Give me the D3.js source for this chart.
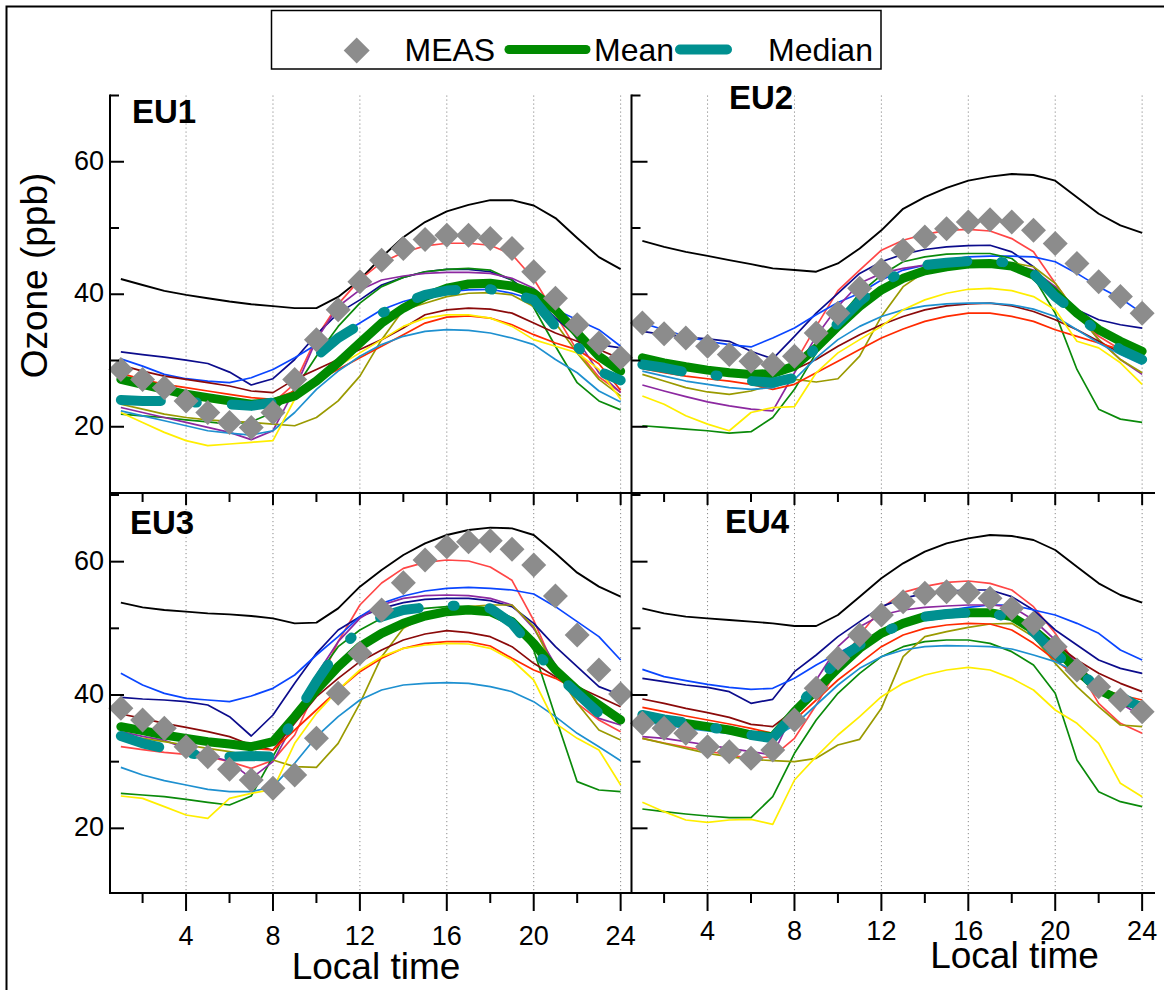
<!DOCTYPE html>
<html>
<head>
<meta charset="utf-8">
<script src="https://cdn.jsdelivr.net/npm/d3@7"></script>
<style>
  html, body { margin: 0; padding: 0; background: #fff; }
  svg { display: block; font-family: "Liberation Sans", Arial, sans-serif; }
</style>
</head>
<body>
<svg id="chart" width="1164" height="990"></svg>
<script>
// ---------- axis definitions ----------
const hours = d3.range(1, 25);
const hourMajorTicks = [4, 8, 12, 16, 20, 24];
const hourMinorTicks = [2, 6, 10, 14, 18, 22];
const ozoneMajorTicks = [20, 40, 60];
const ozoneMinorTicks = [30, 50, 70];
const panelNames = ["EU1", "EU2", "EU3", "EU4"];
const legendLabels = ["MEAS", "Mean", "Median"];
const xTitle = "Local time";
const yTitle = "Ozone (ppb)";

// ---------- EU1 hourly ozone (ppb), hours 1..24 ----------
const EU1_MEAS   = [28.65,27.15,25.9,23.9,22.15,20.65,19.9,22.15,27.15,33.15,37.65,41.9,45.15,46.9,48.25,48.9,48.9,48.4,46.9,43.4,39.4,35.4,32.65,30.4];
const EU1_MEAN   = [27.15,26.4,25.65,24.9,24.4,23.9,23.4,23.65,24.65,26.9,29.65,32.65,35.65,37.9,39.65,40.9,41.55,41.65,41.25,40.15,37.65,34.15,30.65,28.4];
const EU1_MEDIAN = [24.05,23.9,23.9,23.75,23.55,23.4,23.15,23.65,27.0,30.65,33.4,35.4,37.15,38.65,39.9,40.55,40.75,40.75,40.15,39.15,35.15,32.15,28.4,27.0];
const EU1_M1  = [42.3,41.4,40.5,39.9,39.4,38.9,38.5,38.2,37.9,37.9,39.6,42.2,45.6,48.6,50.9,52.5,53.5,54.2,54.2,53.4,51.5,48.5,45.6,43.8];
const EU1_M2  = [27.5,26.5,25.6,24.9,24.4,24.1,23.8,23.6,26.5,33.5,38.5,42.2,44.8,46.3,47.3,47.7,47.7,47.4,46.0,42.3,37.0,31.5,27.5,25.2];
const EU1_M3  = [31.3,30.9,30.5,30.05,29.55,28.25,26.3,27.25,30.15,33.9,37.15,39.15,41.4,42.55,43.4,43.75,43.75,43.4,42.15,39.65,36.4,33.65,32.4,31.9];
const EU1_M4  = [30.25,29.15,27.9,27.25,26.9,26.65,27.4,28.65,30.4,32.4,33.65,35.65,37.65,38.9,39.75,40.4,40.65,40.75,40.15,39.15,37.65,36.15,34.65,32.15];
const EU1_M5  = [21.9,21.65,21.4,21.05,20.75,20.4,20.75,22.15,25.65,30.65,35.15,38.65,41.15,42.55,43.4,43.75,43.9,43.65,42.15,38.0,32.15,26.65,23.9,22.55];
const EU1_M6  = [22.9,22.15,21.4,20.65,19.9,19.15,18.05,19.4,25.65,33.15,38.15,40.65,42.15,42.75,43.15,43.3,43.3,43.15,42.4,40.9,38.15,33.15,28.15,25.15];
const EU1_M7  = [23.4,22.65,21.9,21.4,21.05,20.8,20.65,20.4,20.15,21.4,23.9,27.65,33.15,37.65,38.65,39.65,40.15,40.25,39.9,38.15,35.65,31.15,27.15,24.65];
const EU1_M8  = [29.3,28.4,27.65,27.15,26.65,26.15,25.4,25.15,27.15,28.65,30.15,31.65,33.15,34.9,36.9,37.65,37.9,37.75,37.15,35.65,34.15,32.9,31.65,30.25];
const EU1_M9  = [28.05,27.15,26.4,25.9,25.4,24.9,24.4,24.15,25.4,26.9,28.65,30.4,32.15,33.9,35.65,36.55,36.75,36.4,35.4,33.9,32.65,31.65,29.5,25.5];
const EU1_M10 = [22.4,21.65,20.9,20.15,19.4,19.05,18.75,19.4,22.15,25.65,28.4,30.65,32.4,33.65,34.4,34.65,34.55,34.15,33.4,32.4,30.15,28.15,25.4,23.75];
const EU1_M11 = [22.15,20.65,19.15,17.9,17.15,17.4,17.65,17.9,24.15,27.15,29.15,31.15,33.15,35.15,36.4,36.9,36.9,36.4,35.15,33.15,32.15,31.15,28.65,24.15];

// ---------- EU2 ----------
const EU2_MEAS   = [35.65,34.05,33.4,32.15,30.9,29.9,29.4,30.65,34.15,37.15,40.9,43.65,46.65,48.65,49.9,50.9,51.25,50.9,49.65,47.65,44.65,41.9,39.65,37.15];
const EU2_MEAN   = [30.4,29.65,29.05,28.55,28.15,27.9,28.05,29.15,31.9,35.15,38.15,40.65,42.4,43.55,44.15,44.55,44.65,44.25,42.9,40.15,37.15,34.65,32.9,31.4];
const EU2_MEDIAN = [29.4,28.9,28.25,27.9,27.5,26.9,26.65,27.4,32.15,35.65,38.9,41.65,43.4,44.4,44.75,45.0,45.0,44.75,43.15,39.65,37.15,34.15,31.65,30.15];
const EU2_M1  = [48.05,47.15,46.4,45.8,45.15,44.55,43.9,43.65,43.4,44.65,46.9,49.65,52.9,54.65,56.05,57.15,57.75,58.15,58.0,57.15,54.65,52.15,50.4,49.25];
const EU2_M2  = [30.3,29.8,29.2,28.7,28.3,28.0,27.6,29.5,35.15,40.55,43.65,46.65,48.15,49.05,49.65,49.8,49.55,48.4,46.4,41.65,37.15,33.65,31.65,30.15];
const EU2_M3  = [34.4,33.9,33.55,33.25,32.9,31.4,30.25,33.65,37.15,40.15,43.15,44.9,46.05,46.75,47.15,47.35,47.4,46.4,44.15,40.15,37.65,36.15,35.4,34.9];
const EU2_M4  = [35.65,34.65,33.65,32.9,32.4,32.05,33.4,34.9,36.9,38.75,40.15,42.15,43.65,44.4,45.15,45.65,45.75,45.75,45.65,44.9,43.15,41.15,39.4,37.15];
const EU2_M5  = [20.15,19.9,19.65,19.4,19.05,19.25,21.4,25.65,31.15,36.15,40.15,42.9,44.9,45.65,46.05,46.15,46.15,45.4,42.65,37.15,28.65,22.65,21.15,20.65];
const EU2_M6  = [26.3,25.4,24.55,23.75,23.15,22.65,22.4,28.15,33.65,38.15,41.65,43.15,43.9,44.4,44.65,44.75,44.75,44.55,43.65,41.15,37.15,33.15,30.15,27.9];
const EU2_M7  = [27.9,26.9,25.9,25.25,24.9,25.4,26.4,27.15,26.75,27.25,30.65,36.65,41.15,43.4,44.15,44.65,44.9,44.75,44.15,41.65,37.15,33.15,30.15,28.15];
const EU2_M8  = [30.0,29.5,29.0,28.6,28.3,28.0,27.8,28.65,30.15,32.15,33.9,35.4,36.65,37.65,38.25,38.55,38.65,38.25,37.4,36.15,34.65,32.9,31.15,29.65];
const EU2_M9  = [28.75,28.15,27.65,27.25,26.9,26.4,25.65,26.4,28.15,29.9,31.65,33.4,34.75,35.9,36.65,37.15,37.15,36.65,35.9,34.65,33.65,32.65,31.65,30.4];
const EU2_M10 = [28.4,27.65,26.9,26.4,25.9,25.65,25.9,27.15,30.4,33.15,35.15,36.65,37.65,38.25,38.55,38.65,38.65,38.4,37.75,36.65,34.65,32.65,30.9,29.4];
const EU2_M11 = [24.65,23.4,21.65,20.4,19.4,22.15,22.9,23.05,28.15,31.15,33.15,35.15,37.65,39.15,40.15,40.75,40.9,40.55,39.65,37.65,32.9,31.9,29.65,26.4];

// ---------- EU3 ----------
const EU3_MEAS   = [38.0,36.25,35.0,32.25,30.75,28.85,27.25,26.0,28.0,33.5,40.25,46.25,52.75,56.85,60.25,62.25,63.0,63.15,61.85,59.5,54.85,49.0,43.75,40.15];
const EU3_MEAN   = [35.25,34.65,34.0,33.5,33.0,32.65,32.25,33.0,36.75,40.75,44.25,47.25,49.25,50.75,51.85,52.5,52.75,52.5,51.0,47.75,43.75,40.75,38.5,36.25];
const EU3_MEDIAN = [33.85,32.75,32.0,31.25,31.0,30.75,30.85,30.75,36.75,42.0,46.75,49.75,51.75,52.75,53.15,53.35,53.5,53.0,50.75,46.75,43.25,40.25,37.25,35.75];
const EU3_M1  = [53.85,53.15,52.75,52.5,52.25,52.1,51.85,51.5,50.75,50.85,53.0,56.25,58.75,61.0,62.75,64.0,64.75,65.1,65.0,64.0,61.25,58.35,56.25,54.75];
const EU3_M2  = [32.25,31.8,31.4,31.1,30.75,30.0,29.0,30.2,34.0,41.0,48.0,53.5,56.8,59.0,59.9,60.25,60.1,59.2,57.2,51.2,43.75,38.75,36.25,34.5];
const EU3_M3  = [39.65,39.4,39.25,39.0,38.5,36.75,33.85,37.0,41.75,46.25,49.75,51.75,53.0,53.85,54.35,54.5,54.5,54.15,53.25,50.75,47.25,44.25,41.25,40.0];
const EU3_M4  = [43.25,41.5,40.25,39.5,39.25,39.0,39.85,41.0,43.0,46.0,48.75,51.75,53.75,54.85,55.6,56.0,56.15,56.0,55.75,55.15,53.25,51.0,48.75,45.25];
const EU3_M5  = [25.25,25.0,24.75,24.35,23.9,23.5,24.85,30.75,36.75,42.75,47.25,49.75,51.5,52.5,53.0,53.25,53.35,53.0,51.25,46.75,36.75,27.0,25.75,25.5];
const EU3_M6  = [34.5,33.8,33.2,32.0,31.0,30.0,27.5,30.0,36.0,43.0,48.0,51.5,53.5,54.5,54.9,55.0,54.9,54.5,53.5,50.0,44.5,39.5,36.5,35.5];
const EU3_M7  = [34.0,33.5,33.0,32.5,32.0,31.5,30.8,30.25,29.25,29.15,32.75,38.75,45.75,50.0,51.75,52.75,53.25,53.5,53.5,50.25,43.75,38.75,34.75,33.25];
const EU3_M8  = [37.15,36.5,35.75,35.15,34.5,33.75,32.5,31.75,35.75,39.75,42.5,45.0,46.75,48.25,49.15,49.65,49.35,48.75,47.25,44.75,42.75,41.25,39.75,38.25];
const EU3_M9  = [35.0,34.5,34.0,33.5,33.0,32.5,32.0,31.75,34.75,37.75,40.75,43.5,45.5,47.0,47.75,48.0,48.0,47.35,45.5,43.75,42.5,40.75,38.25,35.75];
const EU3_M10 = [29.15,28.0,27.15,26.5,25.85,25.5,25.5,26.25,29.75,33.75,36.75,39.25,40.75,41.5,41.75,41.85,41.75,41.25,40.5,39.0,36.75,34.25,32.25,30.15];
const EU3_M11 = [24.85,24.5,23.25,22.0,21.5,24.5,25.25,25.85,32.75,37.25,40.75,43.75,45.75,47.0,47.5,47.75,47.65,47.0,45.25,42.25,35.75,33.5,31.75,26.5];

// ---------- EU4 ----------
const EU4_MEAS   = [35.75,35.0,34.25,32.25,31.5,30.5,31.75,36.25,41.0,45.5,49.0,52.0,54.0,55.25,55.5,55.35,54.5,53.0,50.75,47.25,43.75,41.25,39.25,37.5];
const EU4_MEAN   = [36.75,36.25,35.75,35.25,34.75,34.0,33.75,37.5,40.75,44.0,47.0,49.25,50.75,51.75,52.15,52.35,52.35,51.75,49.75,47.0,43.75,40.75,39.25,38.25];
const EU4_MEDIAN = [37.0,36.35,35.85,35.15,34.75,34.0,33.5,37.25,41.75,45.25,47.5,49.25,50.75,51.75,52.15,52.35,52.35,51.5,49.5,46.25,43.5,41.25,39.75,38.0];
const EU4_M1  = [53.0,52.25,51.75,51.5,51.25,51.0,50.75,50.35,50.35,52.0,54.75,57.5,59.75,61.5,62.75,63.5,64.0,63.85,63.25,61.75,59.25,56.75,55.0,53.85];
const EU4_M2  = [33.5,32.8,32.2,31.6,31.0,30.5,30.75,33.5,38.5,44.0,49.0,53.0,55.4,56.3,56.9,57.1,56.75,55.75,53.25,49.25,44.25,38.75,35.75,34.25];
const EU4_M3  = [42.5,42.0,41.5,41.15,40.5,38.75,39.35,43.5,46.0,48.75,51.0,53.25,54.5,55.25,55.6,55.75,55.75,54.75,52.75,49.75,47.5,45.25,44.0,43.25];
const EU4_M4  = [43.85,42.75,42.15,41.6,41.15,40.85,41.0,42.5,44.5,46.25,48.0,49.5,51.0,52.0,52.65,53.15,53.5,53.5,52.75,52.0,50.75,49.25,46.75,45.25];
const EU4_M5  = [22.9,22.5,22.15,21.85,21.6,21.6,24.75,31.25,36.25,40.25,43.25,45.75,47.25,48.0,48.25,48.25,47.75,46.5,44.5,40.25,30.25,25.5,24.0,23.25];
const EU4_M6  = [33.75,33.5,33.0,32.5,32.0,31.5,31.0,37.75,42.25,47.25,50.25,52.0,52.75,53.15,53.35,53.5,53.5,53.25,51.25,48.25,44.75,41.25,38.75,36.75];
const EU4_M7  = [33.5,32.75,32.0,31.25,30.75,30.35,30.15,30.0,30.5,32.5,33.35,38.0,45.75,48.75,49.5,50.15,50.65,50.75,48.75,44.75,41.25,38.25,35.5,35.25];
const EU4_M8  = [39.4,38.75,38.0,37.35,36.65,35.6,35.25,37.75,40.75,43.75,46.75,49.25,50.75,51.75,52.35,52.65,52.75,52.0,50.25,47.75,45.25,43.25,41.75,40.5];
const EU4_M9  = [38.15,37.5,36.85,36.25,35.65,35.0,34.25,36.25,39.25,42.25,44.75,47.25,49.0,50.0,50.5,50.75,50.65,49.75,47.75,45.25,42.75,41.0,40.0,39.25];
const EU4_M10 = [36.0,35.5,35.0,34.6,34.2,33.8,33.5,35.5,38.5,41.5,44.0,45.75,46.75,47.25,47.4,47.35,47.25,46.9,46.0,45.0,43.5,41.5,39.5,38.0];
const EU4_M11 = [23.9,22.5,21.25,20.9,21.25,21.35,20.6,27.25,30.75,34.0,36.75,39.75,41.75,43.0,43.75,44.15,43.75,42.5,40.75,37.75,35.75,32.75,26.75,24.75];

// ---------- styling ----------
const modelColors = ["#000000", "#ff4646", "#0c0c8c", "#0a46ff", "#0a8a0a", "#8c28a0",
                     "#9a9a00", "#8b0a0a", "#ff2a00", "#1e90d0", "#ffee00"];
const measColor = "#8c8c8c";
const meanColor = "#008a00";
const medianColor = "#009090";
const medianDash = "40,34,2,35";

// assemble per-panel series
const panelData = [
  { name: panelNames[0], meas: EU1_MEAS, mean: EU1_MEAN, median: EU1_MEDIAN,
    models: [EU1_M1, EU1_M2, EU1_M3, EU1_M4, EU1_M5, EU1_M6, EU1_M7, EU1_M8, EU1_M9, EU1_M10, EU1_M11] },
  { name: panelNames[1], meas: EU2_MEAS, mean: EU2_MEAN, median: EU2_MEDIAN,
    models: [EU2_M1, EU2_M2, EU2_M3, EU2_M4, EU2_M5, EU2_M6, EU2_M7, EU2_M8, EU2_M9, EU2_M10, EU2_M11] },
  { name: panelNames[2], meas: EU3_MEAS, mean: EU3_MEAN, median: EU3_MEDIAN,
    models: [EU3_M1, EU3_M2, EU3_M3, EU3_M4, EU3_M5, EU3_M6, EU3_M7, EU3_M8, EU3_M9, EU3_M10, EU3_M11] },
  { name: panelNames[3], meas: EU4_MEAS, mean: EU4_MEAN, median: EU4_MEDIAN,
    models: [EU4_M1, EU4_M2, EU4_M3, EU4_M4, EU4_M5, EU4_M6, EU4_M7, EU4_M8, EU4_M9, EU4_M10, EU4_M11] }
];

// panel frames (pixel boxes) and label placement
const frames = [
  { x0: 110,   x1: 631.5, y0: 95.5, y1: 493, dom: [10, 70],     lab: [132, 123], left: true },
  { x0: 631.5, x1: 1153,  y0: 95.5, y1: 493, dom: [10, 70],     lab: [729, 109], left: false },
  { x0: 110,   x1: 631.5, y0: 493,  y1: 893, dom: [10.3, 70.3], lab: [130, 534], left: true },
  { x0: 631.5, x1: 1153,  y0: 493,  y1: 893, dom: [10.3, 70.3], lab: [725, 533], left: false }
];

const svg = d3.select("#chart");

// outer frame
svg.append("path")
  .attr("d", "M6.5,992V6.5H1166")
  .attr("fill", "none").attr("stroke", "#000").attr("stroke-width", 2);

// legend
const lg = svg.append("g");
lg.append("rect").attr("x", 271.5).attr("y", 10.5).attr("width", 609.5).attr("height", 58.5)
  .attr("fill", "#fff").attr("stroke", "#000").attr("stroke-width", 1.5);
const diamond = r => `M0,${-r}L${r},0L0,${r}L${-r},0Z`;
lg.append("path").attr("d", diamond(13)).attr("transform", "translate(356.7,50.5)").attr("fill", measColor);
lg.append("line").attr("x1", 509).attr("x2", 586).attr("y1", 49.5).attr("y2", 49.5)
  .attr("stroke", meanColor).attr("stroke-width", 9).attr("stroke-linecap", "round");
lg.append("line").attr("x1", 680).attr("x2", 727).attr("y1", 49.5).attr("y2", 49.5)
  .attr("stroke", medianColor).attr("stroke-width", 10).attr("stroke-linecap", "round");
const legendX = [404.5, 594, 768];
legendLabels.forEach((t, i) => {
  lg.append("text").attr("x", legendX[i]).attr("y", 61).attr("font-size", 32).text(t);
});

panelData.forEach((p, i) => {
  const f = frames[i];
  const x = d3.scaleLinear().domain([0.5, 24.5]).range([f.x0, f.x1]);
  const y = d3.scaleLinear().domain(f.dom).range([f.y1, f.y0]);
  const g = svg.append("g");

  // dotted vertical grid
  g.selectAll(".grid").data(hourMajorTicks).join("line")
    .attr("x1", d => x(d)).attr("x2", d => x(d))
    .attr("y1", f.y0).attr("y2", f.y1)
    .attr("stroke", "#8a8a8a").attr("stroke-width", 1).attr("stroke-dasharray", "1.2,2.8");

  const line = d3.line().x((d, k) => x(hours[k])).y(d => y(d));

  // individual model curves
  p.models.forEach((m, k) => {
    g.append("path").attr("d", line(m)).attr("fill", "none")
      .attr("stroke", modelColors[k]).attr("stroke-width", k === 0 ? 1.9 : 1.7)
      .attr("stroke-linejoin", "round");
  });

  // ensemble mean and median
  g.append("path").attr("d", line(p.mean)).attr("fill", "none")
    .attr("stroke", meanColor).attr("stroke-width", 9)
    .attr("stroke-linejoin", "round").attr("stroke-linecap", "round");
  g.append("path").attr("d", line(p.median)).attr("fill", "none")
    .attr("stroke", medianColor).attr("stroke-width", 10)
    .attr("stroke-linejoin", "round").attr("stroke-linecap", "round")
    .attr("stroke-dasharray", medianDash);

  // measurements
  g.selectAll(".meas").data(p.meas).join("path")
    .attr("d", diamond(12.5))
    .attr("transform", (d, k) => `translate(${x(hours[k])},${y(d)})`)
    .attr("fill", measColor);

  // panel name
  g.append("text").attr("x", f.lab[0]).attr("y", f.lab[1])
    .attr("font-size", 33).attr("font-weight", "bold").text(p.name);

  // y ticks (inward)
  const tl = f.left ? 14 : 16;
  ozoneMajorTicks.forEach(v => {
    g.append("line").attr("x1", f.x0).attr("x2", f.x0 + tl).attr("y1", y(v)).attr("y2", y(v))
      .attr("stroke", "#000").attr("stroke-width", 2);
    if (f.left) {
      g.append("text").attr("x", 104).attr("y", y(v) + 8).attr("text-anchor", "end")
        .attr("font-size", 27).text(v);
    }
  });
  ozoneMinorTicks.forEach(v => {
    if (y(v) < f.y0 - 0.5) return;
    g.append("line").attr("x1", f.x0).attr("x2", f.x0 + 9).attr("y1", y(v)).attr("y2", y(v))
      .attr("stroke", "#000").attr("stroke-width", 2);
  });

  // x ticks
  if (i >= 2) {
    // bottom axis: ticks outward, labels
    hourMajorTicks.forEach(h => {
      g.append("line").attr("x1", x(h)).attr("x2", x(h)).attr("y1", 893).attr("y2", 911)
        .attr("stroke", "#000").attr("stroke-width", 2);
      g.append("text").attr("x", x(h)).attr("y", i === 2 ? 945 : 940).attr("text-anchor", "middle")
        .attr("font-size", 27).text(h);
    });
    hourMinorTicks.forEach(h => {
      g.append("line").attr("x1", x(h)).attr("x2", x(h)).attr("y1", 893).attr("y2", 903)
        .attr("stroke", "#000").attr("stroke-width", 2);
    });
    // top border of lower panels: ticks inward
    hourMajorTicks.forEach(h => {
      g.append("line").attr("x1", x(h)).attr("x2", x(h)).attr("y1", 493).attr("y2", 505)
        .attr("stroke", "#000").attr("stroke-width", 2);
    });
    hourMinorTicks.forEach(h => {
      g.append("line").attr("x1", x(h)).attr("x2", x(h)).attr("y1", 493).attr("y2", 502)
        .attr("stroke", "#000").attr("stroke-width", 2);
    });
  }
});

// axis lines
const ax = svg.append("g").attr("stroke", "#000").attr("stroke-width", 2).attr("fill", "none");
ax.append("line").attr("x1", 110).attr("x2", 110).attr("y1", 94.5).attr("y2", 894);
ax.append("line").attr("x1", 631.5).attr("x2", 631.5).attr("y1", 94.5).attr("y2", 894);
ax.append("line").attr("x1", 109).attr("x2", 1155).attr("y1", 493).attr("y2", 493);
ax.append("line").attr("x1", 109).attr("x2", 1155).attr("y1", 893).attr("y2", 893);

// axis titles
svg.append("text").attr("x", 376).attr("y", 979).attr("text-anchor", "middle")
  .attr("font-size", 37).text(xTitle);
svg.append("text").attr("x", 1014.5).attr("y", 968).attr("text-anchor", "middle")
  .attr("font-size", 37).text(xTitle);
svg.append("text").attr("transform", "translate(47,275.5) rotate(-90)").attr("text-anchor", "middle")
  .attr("font-size", 37).text(yTitle);
</script>
</body>
</html>
